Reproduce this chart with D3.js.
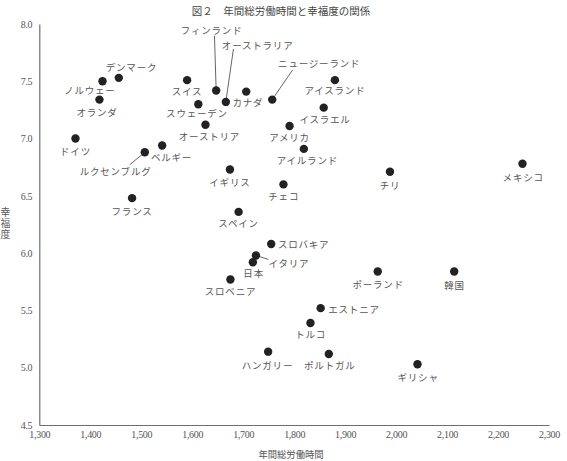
<!DOCTYPE html>
<html>
<head>
<meta charset="utf-8">
<script src="https://cdn.jsdelivr.net/npm/d3@7"></script>
<style>
  html, body { margin: 0; padding: 0; background: #fff; }
  svg { display: block; }
</style>
</head>
<body>
<script>
// ---- data ----
const countries = ["デンマーク","ノルウェー","オランダ","ドイツ","ルクセンブルグ","ベルギー","フランス","スイス","フィンランド","オーストラリア","スウェーデン","オーストリア","カナダ","ニュージーランド","アメリカ","イギリス","チェコ","アイスランド","イスラエル","アイルランド","チリ","スペイン","メキシコ","スロバキア","イタリア","日本","ポーランド","韓国","エストニア","トルコ","スロベニア","ハンガリー","ポルトガル","ギリシャ"];
const hours = [1456,1424,1418,1371,1507,1541,1482,1590,1647,1666,1612,1626,1706,1757,1791,1674,1779,1880,1858,1819,1988,1691,2248,1755,1725,1719,1964,2114,1852,1832,1675,1749,1868,2042];
const happiness = [7.53,7.50,7.34,7.00,6.88,6.94,6.48,7.51,7.42,7.32,7.30,7.12,7.41,7.34,7.11,6.73,6.60,7.51,7.27,6.91,6.71,6.36,6.78,6.08,5.98,5.92,5.84,5.84,5.52,5.39,5.77,5.14,5.12,5.03];
const xTicks = [1300,1400,1500,1600,1700,1800,1900,2000,2100,2200,2300];
const yTicks = [4.5,5.0,5.5,6.0,6.5,7.0,7.5,8.0];
const titleText = "図２　年間総労働時間と幸福度の関係";
const xTitle = "年間総労働時間";
const yTitle = "幸福度";

// ---- label layout (pixel offsets from the dot: dx, dy, anchor, leader end dx, dy) ----
const labelLayout = {
  "デンマーク": [12.7,-10.4,"middle"],
  "ノルウェー": [-12.6,8.3,"middle"],
  "オランダ": [-2.4,12.7,"middle"],
  "ドイツ": [0,12,"middle"],
  "ルクセンブルグ": [-29.2,19,"middle",-15,12.3],
  "ベルギー": [9.4,11.7,"middle"],
  "フランス": [0,12.7,"middle"],
  "スイス": [0,11,"middle"],
  "フィンランド": [-4.5,-60,"middle",-1.7,-54.7],
  "オーストラリア": [31.8,-57.3,"middle",7.6,-53],
  "スウェーデン": [-1.3,8.5,"middle"],
  "オーストリア": [4,11,"middle"],
  "カナダ": [1.7,10,"middle"],
  "ニュージーランド": [47,-37,"middle",20.4,-29.7],
  "アメリカ": [0,10.7,"middle"],
  "イギリス": [0,12,"middle"],
  "チェコ": [0.3,11.7,"middle"],
  "アイスランド": [0,10.3,"middle"],
  "イスラエル": [1.3,11,"middle"],
  "アイルランド": [3.5,11.3,"middle"],
  "チリ": [0,13,"middle"],
  "スペイン": [0,11.6,"middle"],
  "メキシコ": [0.7,13.4,"middle"],
  "スロバキア": [6.7,0.3,"start"],
  "イタリア": [12.6,7.4,"start",12.3,4],
  "日本": [0.8,11,"middle"],
  "ポーランド": [0.5,12.3,"middle"],
  "韓国": [0.4,13.3,"middle"],
  "エストニア": [7.6,0.4,"start"],
  "トルコ": [0.2,11,"middle"],
  "スロベニア": [0.1,12,"middle"],
  "ハンガリー": [-0.7,13,"middle"],
  "ポルトガル": [1,10.6,"middle"],
  "ギリシャ": [0.6,12.7,"middle"]
};

const W = 567, H = 461;
const svg = d3.select("body").append("svg").attr("width", W).attr("height", H);

const x = d3.scaleLinear().domain([1300, 2300]).range([39.3, 549]);
const y = d3.scaleLinear().domain([4.5, 8.0]).range([425, 24]);

const jp = "'Noto Sans CJK JP', 'Noto Sans', sans-serif";
const serif = "'Liberation Serif', 'DejaVu Serif', serif";
const axisColor = "#6e6e6e";
const textColor = "#555";

// title
svg.append("text")
  .attr("x", 281).attr("y", 10.5)
  .attr("text-anchor", "middle").attr("dominant-baseline", "central")
  .style("font-family", jp).style("font-size", "10.5px").style("fill", "#444")
  .text(titleText);

// x axis
const gx = svg.append("g").attr("transform", `translate(0,${y(4.5)})`)
  .call(d3.axisBottom(x).tickValues(xTicks).tickSize(0).tickSizeOuter(0).tickPadding(6).tickFormat(d3.format(",")));
gx.select(".domain").attr("stroke", axisColor).attr("stroke-width", 1.2);
gx.selectAll("text").style("font-family", serif).style("font-size", "10px").style("fill", textColor).style("letter-spacing", "-0.3px");

// y axis
const gy = svg.append("g").attr("transform", `translate(${x(1300)},0)`)
  .call(d3.axisLeft(y).tickValues(yTicks).tickSize(0).tickSizeOuter(0).tickPadding(7).tickFormat(d3.format(".1f")));
gy.select(".domain").attr("stroke", axisColor).attr("stroke-width", 1.2);
gy.selectAll("text").style("font-family", serif).style("font-size", "10px").style("fill", textColor).style("letter-spacing", "-0.3px");

// axis titles
svg.append("text")
  .attr("x", 291).attr("y", 453.5)
  .attr("text-anchor", "middle").attr("dominant-baseline", "central")
  .style("font-family", jp).style("font-size", "9.3px").style("fill", textColor)
  .text(xTitle);

svg.append("text")
  .attr("x", 5.5).attr("y", 207)
  .style("writing-mode", "vertical-rl")
  .style("glyph-orientation-vertical", "0")
  .style("font-family", jp).style("font-size", "9.8px").style("fill", textColor)
  .style("letter-spacing", "1.4px")
  .text(yTitle);

// data
const data = countries.map((c, i) => ({ name: c, h: hours[i], v: happiness[i] }));

// leader lines
svg.append("g").selectAll("line")
  .data(data.filter(d => labelLayout[d.name] && labelLayout[d.name].length > 3))
  .join("line")
  .attr("x1", d => x(d.h)).attr("y1", d => y(d.v))
  .attr("x2", d => x(d.h) + labelLayout[d.name][3])
  .attr("y2", d => y(d.v) + labelLayout[d.name][4])
  .attr("stroke", "#555").attr("stroke-width", 0.9);

// dots
svg.append("g").selectAll("circle")
  .data(data).join("circle")
  .attr("cx", d => x(d.h)).attr("cy", d => y(d.v))
  .attr("r", 4.2).attr("fill", "#222");

// labels
svg.append("g").selectAll("text")
  .data(data).join("text")
  .attr("x", d => x(d.h) + labelLayout[d.name][0])
  .attr("y", d => y(d.v) + labelLayout[d.name][1])
  .attr("text-anchor", d => labelLayout[d.name][2])
  .attr("dominant-baseline", "central")
  .style("font-family", jp).style("font-size", "9.5px").style("fill", textColor)
  .style("letter-spacing", "0.8px")
  .text(d => d.name);
</script>
</body>
</html>
